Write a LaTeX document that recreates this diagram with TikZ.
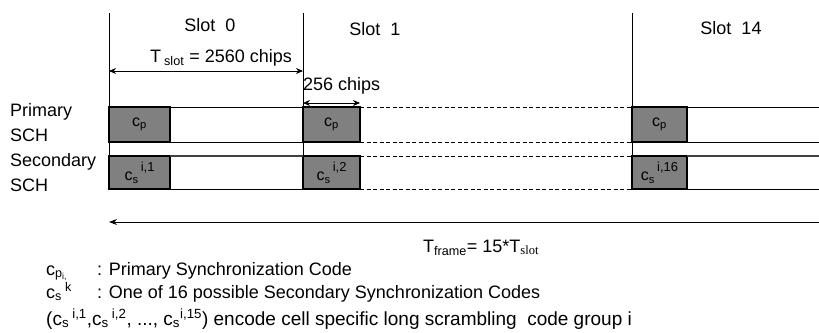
\documentclass[tikz,border=0pt]{standalone}
\usepackage{fontspec}
\setmainfont{Liberation Sans}
\newfontfamily\timesfont{Liberation Serif}
\usetikzlibrary{arrows.meta, positioning}
\definecolor{boxgray}{RGB}{128,128,128}
\definecolor{rowgray}{RGB}{64,64,64}
\newcommand{\scode}[1]{c\textsubscript{s}\raisebox{1.1ex}{\fontsize{13}{13}\selectfont\,#1}}

\begin{document}
\begin{tikzpicture}[x=1pt, y=-1pt,
    codebox/.style={
      draw=black,
      line width=1.3pt,
      fill=boxgray,
      inner sep=0pt,
      outer sep=0pt,
      font=\fontsize{16}{18}\selectfont
    },
    txt/.style={inner sep=0pt, font=\fontsize{18}{25}\selectfont},
    dimline/.style={{Stealth[length=7pt,width=6pt]}-{Stealth[length=7pt,width=6pt]}, line width=0.8pt},
    slotline/.style={line width=0.9pt},
    rowline/.style={line width=1pt},
    secline/.style={line width=1.6pt, draw=rowgray},
    gapline/.style={line width=1pt, dash pattern=on 4pt off 2.5pt}
  ]
  \useasboundingbox (0,0) rectangle (819,332);

  % slot boundaries and right rim
  \coordinate (t0) at (109,13);
  \coordinate (t1) at (303,13);
  \coordinate (t14) at (632,13);
  \coordinate (rim) at (819,0);

  % code boxes
  \node[codebox, minimum width=61pt, minimum height=35pt, anchor=north west] (p0) at (109,107) {c\textsubscript{p}};
  \node[codebox, minimum width=57pt, minimum height=35pt, anchor=north west] (p1) at (303,107) {c\textsubscript{p}};
  \node[codebox, minimum width=55pt, minimum height=35pt, anchor=north west] (p14) at (632,107) {c\textsubscript{p}};
  \node[codebox, minimum width=61pt, minimum height=33pt, anchor=north west] (s0) at (109,156) {\scode{i,1}};
  \node[codebox, minimum width=57pt, minimum height=33pt, anchor=north west] (s1) at (303,156) {\scode{i,2}};
  \node[codebox, minimum width=55pt, minimum height=33pt, anchor=north west] (s14) at (632,156) {\scode{i,16}};

  \draw[slotline] (t0) -- (s0.north west);
  \draw[slotline] (t1) -- (s1.north west);
  \draw[slotline] (t14) -- (s14.north west);

  % primary SCH row
  \draw[rowline] (p0.north east) -- (p1.north west);
  \draw[rowline] (p0.south east) -- (p1.south west);
  \draw[gapline] (p1.north east) -- (p14.north west);
  \draw[gapline] (p1.south east) -- (p14.south west);
  \draw[rowline] (p14.north east) -- (p14.north east -| rim);
  \draw[rowline] (p14.south east) -- (p14.south east -| rim);

  % secondary SCH row
  \draw[secline] (s0.north east) -- (s1.north west);
  \draw[rowline] (s0.south east) -- (s1.south west);
  \draw[gapline] (s1.north east) -- (s14.north west);
  \draw[gapline] (s1.south east) -- (s14.south west);
  \draw[secline] (s14.north east) -- (s14.north east -| rim);
  \draw[rowline] (s14.south east) -- (s14.south east -| rim);

  % labels
  \node[txt, anchor=base] (slot0) at (210,31) {Slot~~0};
  \node[txt, anchor=base] (slot1) at (375,35) {Slot~~1};
  \node[txt, anchor=base] (slot14) at (731,34) {Slot~~14};
  \node[txt, anchor=north west, align=left] (prim) at (10,103) {Primary\\SCH};
  \node[txt, anchor=north west, align=left] (sec) at (10,153) {Secondary\\SCH};

  % durations
  \coordinate (a0) at (109,71);
  \coordinate (a1) at (303,71);
  \draw[dimline] (a0) -- (a1);
  \node[txt, anchor=base west] (tslot) at (150,62) {T\,\textsubscript{slot} = 2560 chips};
  \coordinate (c0) at (303,103);
  \draw[dimline] (c0) -- (c0 -| p1.east);
  \node[txt, anchor=base west] (chips) at (303,90) {256 chips};

  \coordinate (fR) at (819,222);
  \coordinate (fL) at (109,222);
  \draw[-{Stealth[length=8pt,width=6pt]}, line width=1pt] (fR) -- (fL);
  \node[txt, anchor=base west] (tframe) at (423,252) {T\textsubscript{frame}= 15*T\textsubscript{\timesfont slot}};

  % legend
  \node[txt, anchor=base west] (kp) at (46,275) {c\textsubscript{p\textsubscript{i,}}};
  \node[txt, anchor=base west] (kpt) at (97,275) {: Primary Synchronization Code};
  \node[txt, anchor=base west] (ks) at (46,298) {c\textsubscript{s}\,\textsuperscript{k}};
  \node[txt, anchor=base west] (kst) at (97,298) {: One of 16 possible Secondary Synchronization Codes};
  \node[txt, anchor=base west, font=\fontsize{19}{25}\selectfont] (kg) at (46,325) {(c\textsubscript{s}\,\textsuperscript{i,1},c\textsubscript{s}\,\textsuperscript{i,2}, ..., c\textsubscript{s}\textsuperscript{i,15}) encode cell specific long scrambling~ code group i};
\end{tikzpicture}
\end{document}
